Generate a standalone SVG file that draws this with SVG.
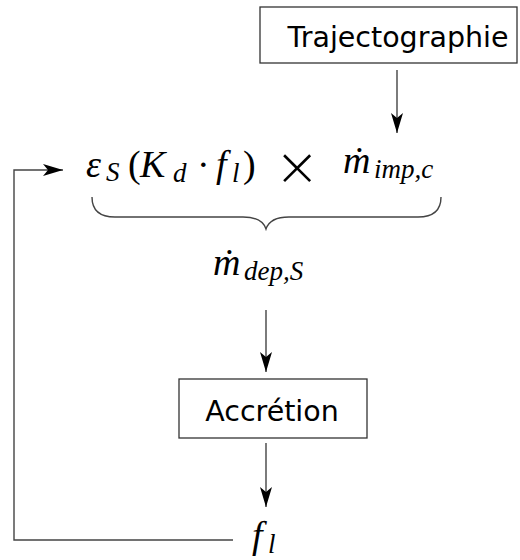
<svg xmlns="http://www.w3.org/2000/svg" width="520" height="560" viewBox="0 0 520 560">
<style>
.box{fill:#fff;stroke:#333;stroke-width:1.3}
.lbl{font-family:"DejaVu Sans",sans-serif;font-size:28.5px;fill:#000;text-anchor:middle}
.m{font-family:"Liberation Serif",serif;font-size:38px;fill:#000;font-style:italic}
.s{font-size:27px}
.u{font-style:normal}
.ln{fill:none;stroke:#444;stroke-width:1.4}
</style>
<defs>
<marker id="ah" markerUnits="userSpaceOnUse" markerWidth="22" markerHeight="14" refX="20" refY="6" orient="auto" viewBox="0 0 22 14">
<path d="M0,0 L20,6 L0,12 L5,6 z" fill="#000"/>
</marker>
</defs>
<g id="connectors">
<line class="ln" x1="397" y1="70" x2="397" y2="133" marker-end="url(#ah)"/>
<line class="ln" x1="266" y1="310" x2="266" y2="372" marker-end="url(#ah)"/>
<line class="ln" x1="266" y1="443" x2="266" y2="507" marker-end="url(#ah)"/>
<polyline class="ln" points="233,540 14,540 14,170 63,170" marker-end="url(#ah)"/>
<path class="ln" d="M92,197 Q92,217 115,217 L243,217 Q262,217 266,229 Q270,217 289,217 L418,217 Q441,217 441,197"/>
</g>
<g id="trajectographie">
<rect class="box" x="260" y="7" width="257" height="56"/>
<text class="lbl" x="398" y="47">Trajectographie</text>
</g>
<g id="formula">
<text class="m" y="177"><tspan x="86">ε</tspan><tspan class="s" x="106" y="181">S</tspan><tspan class="u" x="128" y="177">(</tspan><tspan x="140">K</tspan><tspan class="s" x="173" y="182">d</tspan><tspan class="u" x="197" y="177">·</tspan><tspan x="216">f</tspan><tspan class="s" x="232" y="182">l</tspan><tspan class="u" x="243" y="177">)</tspan></text>
<text x="297" y="185" style="font-family:'DejaVu Sans',sans-serif;font-size:54px;font-weight:200;text-anchor:middle;fill:#000">×</text>
<text class="m" y="173"><tspan x="343">ṁ</tspan><tspan class="s" x="374" y="178">imp,c</tspan></text>
</g>
<g id="mdep">
<text class="m" y="275"><tspan x="213">ṁ</tspan><tspan class="s" x="244" y="280">dep,S</tspan></text>
</g>
<g id="accretion">
<rect class="box" x="179" y="379" width="188" height="59"/>
<text class="lbl" x="272" y="421">Accrétion</text>
</g>
<g id="fl">
<text class="m" y="548"><tspan x="252">f</tspan><tspan class="s" x="268" y="553">l</tspan></text>
</g>
</svg>
